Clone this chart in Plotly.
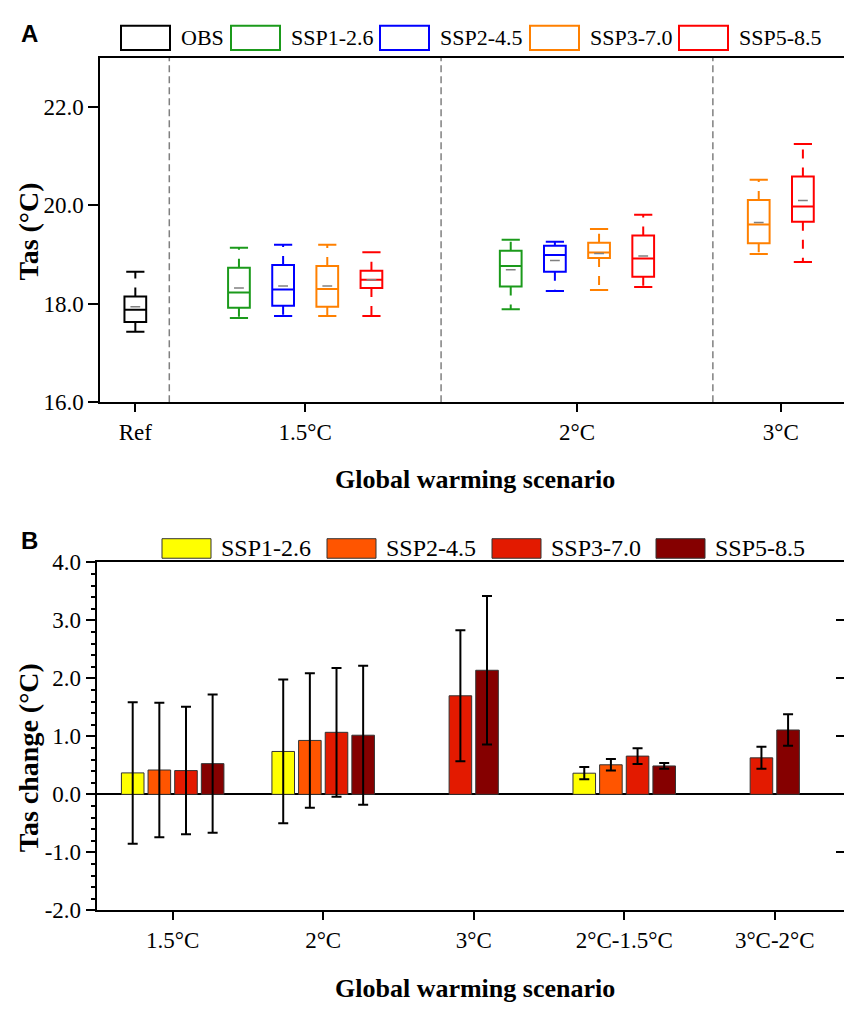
import plotly.graph_objects as go

# ---------------- data: panel A (box statistics, °C) ----------------
warming_levels = ["Ref", "1.5°C", "2°C", "3°C"]
top_series = ["OBS", "SSP1-2.6", "SSP2-4.5", "SSP3-7.0", "SSP5-8.5"]

obs_min = [17.43, None, None, None]
obs_q1 = [17.63, None, None, None]
obs_med = [17.88, None, None, None]
obs_q3 = [18.15, None, None, None]
obs_max = [18.65, None, None, None]
obs_mean = [17.94, None, None, None]

ssp126_min = [None, 17.71, 17.89, None]
ssp126_q1 = [None, 17.92, 18.35, None]
ssp126_med = [None, 18.23, 18.77, None]
ssp126_q3 = [None, 18.73, 19.08, None]
ssp126_max = [None, 19.14, 19.30, None]
ssp126_mean = [None, 18.32, 18.69, None]

ssp245_min = [None, 17.75, 18.26, None]
ssp245_q1 = [None, 17.96, 18.65, None]
ssp245_med = [None, 18.29, 18.99, None]
ssp245_q3 = [None, 18.79, 19.18, None]
ssp245_max = [None, 19.20, 19.26, None]
ssp245_mean = [None, 18.36, 18.88, None]

ssp370_min = [None, 17.75, 18.28, 19.01]
ssp370_q1 = [None, 17.94, 18.93, 19.23]
ssp370_med = [None, 18.30, 19.04, 19.61]
ssp370_q3 = [None, 18.77, 19.24, 20.11]
ssp370_max = [None, 19.20, 19.52, 20.52]
ssp370_mean = [None, 18.36, 19.02, 19.65]

ssp585_min = [None, 17.75, 18.34, 18.85]
ssp585_q1 = [None, 18.32, 18.55, 19.67]
ssp585_med = [None, 18.49, 18.92, 19.98]
ssp585_q3 = [None, 18.67, 19.39, 20.59]
ssp585_max = [None, 19.05, 19.81, 21.25]
ssp585_mean = [None, 18.49, 18.97, 20.10]

# ---------------- data: panel B (Tas change, °C) ----------------
change_cats = ["1.5°C", "2°C", "3°C", "2°C-1.5°C", "3°C-2°C"]
bar_series = ["SSP1-2.6", "SSP2-4.5", "SSP3-7.0", "SSP5-8.5"]
chg_ssp126 = [0.37, 0.74, None, 0.365, None]
err_ssp126 = [1.22, 1.24, None, 0.105, None]
chg_ssp245 = [0.42, 0.93, None, 0.51, None]
err_ssp245 = [1.16, 1.16, None, 0.10, None]
chg_ssp370 = [0.41, 1.07, 1.70, 0.66, 0.63]
err_ssp370 = [1.10, 1.11, 1.13, 0.135, 0.19]
chg_ssp585 = [0.53, 1.02, 2.14, 0.49, 1.11]
err_ssp585 = [1.19, 1.20, 1.28, 0.05, 0.27]

top_yticks = [16, 18, 20, 22]
bot_yticks = [-2, -1, 0, 1, 2, 3, 4]

# ---------------- styles / layout constants ----------------
W, H = 844, 1016
SERIF = "Liberation Serif, Times New Roman, serif"
top_colors = ["#000000", "#1b9a1b", "#0000ff", "#ff8000", "#ff0000"]
bar_colors = ["#ffff00", "#ff5500", "#e31a00", "#850000"]
LEVEL_POS = [1, 3.5, 7.5, 10.5]
SEPARATORS = [1.5, 5.5, 9.5]
BOX_STEP, BOX_W = 0.65, 0.32
BAR_STEP, BAR_W = 0.177, 0.15


def px(x):
    return x / W


def py(y):
    return 1 - y / H


top_stats = [
    (obs_min, obs_q1, obs_med, obs_q3, obs_max, obs_mean),
    (ssp126_min, ssp126_q1, ssp126_med, ssp126_q3, ssp126_max, ssp126_mean),
    (ssp245_min, ssp245_q1, ssp245_med, ssp245_q3, ssp245_max, ssp245_mean),
    (ssp370_min, ssp370_q1, ssp370_med, ssp370_q3, ssp370_max, ssp370_mean),
    (ssp585_min, ssp585_q1, ssp585_med, ssp585_q3, ssp585_max, ssp585_mean),
]
bar_vals = [chg_ssp126, chg_ssp245, chg_ssp370, chg_ssp585]
bar_errs = [err_ssp126, err_ssp245, err_ssp370, err_ssp585]

fig = go.Figure()

# ---- Panel A: box plots ----
pos_of = {}
for g in range(len(warming_levels)):
    present = [s for s in range(len(top_series)) if top_stats[s][2][g] is not None]
    n = len(present)
    for k, s in enumerate(present):
        pos_of[(s, g)] = LEVEL_POS[g] + (k - (n - 1) / 2) * BOX_STEP

for s, name in enumerate(top_series):
    mn, q1, md, q3, mx, me = top_stats[s]
    idx = [g for g in range(len(warming_levels)) if md[g] is not None]
    xs = [pos_of[(s, g)] for g in idx]
    col = top_colors[s]
    fig.add_trace(go.Box(
        x=xs, q1=[q1[g] for g in idx], median=[md[g] for g in idx], q3=[q3[g] for g in idx],
        lowerfence=[q1[g] for g in idx], upperfence=[q3[g] for g in idx],
        width=BOX_W, whiskerwidth=0, boxpoints=False,
        line=dict(color=col, width=2), fillcolor="rgba(255,255,255,0)",
        name=name, showlegend=False, xaxis="x", yaxis="y", hoverinfo="skip"))
    wx, wy = [], []
    for g, x in zip(idx, xs):
        wx += [x, x, None, x, x, None]
        wy += [q3[g], mx[g], None, q1[g], mn[g], None]
    fig.add_trace(go.Scatter(
        x=wx, y=wy, mode="lines", line=dict(color=col, width=2, dash="9px,9px"),
        showlegend=False, xaxis="x", yaxis="y", hoverinfo="skip", connectgaps=False))
    fig.add_trace(go.Scatter(
        x=xs + xs, y=[mx[g] for g in idx] + [mn[g] for g in idx], mode="markers",
        marker=dict(symbol="line-ew", size=13, line=dict(color=col, width=2)),
        showlegend=False, xaxis="x", yaxis="y", hoverinfo="skip"))
    fig.add_trace(go.Scatter(
        x=xs, y=[me[g] for g in idx], mode="markers",
        marker=dict(symbol="line-ew", size=7, line=dict(color="#808080", width=1.5)),
        showlegend=False, xaxis="x", yaxis="y", hoverinfo="skip"))

# ---- Panel B: bars with error bars ----
present_b = {c: [j for j in range(len(bar_series)) if bar_vals[j][c] is not None]
             for c in range(len(change_cats))}
for j, name in enumerate(bar_series):
    idx = [c for c in range(len(change_cats)) if bar_vals[j][c] is not None]
    offs = []
    for c in idx:
        n = len(present_b[c])
        k = present_b[c].index(j)
        offs.append((k - (n - 1) / 2) * BAR_STEP - BAR_W / 2)
    fig.add_trace(go.Bar(
        x=[change_cats[c] for c in idx], y=[bar_vals[j][c] for c in idx],
        offset=offs, width=BAR_W,
        marker=dict(color=bar_colors[j], line=dict(color="#333333", width=1)),
        error_y=dict(type="data", array=[bar_errs[j][c] for c in idx],
                     color="black", thickness=2, width=5),
        name=name, showlegend=False, xaxis="x2", yaxis="y2", hoverinfo="skip"))

# helper (empty) trace so the right-hand inner tick axis is drawn
fig.add_trace(go.Scatter(x=[], y=[], xaxis="x2", yaxis="y3", showlegend=False, hoverinfo="skip"))

axis_common = dict(showline=True, linecolor="black", linewidth=1.5, showgrid=False,
                   zeroline=False, ticks="outside", tickcolor="black", tickwidth=1.5,
                   tickfont=dict(family=SERIF, size=23, color="black"))

top_dom = [py(400), py(47)]
bot_dom = [py(921), py(564.3)]

fig.update_layout(
    width=W, height=H, margin=dict(l=0, r=0, t=0, b=0),
    paper_bgcolor="white", plot_bgcolor="white", showlegend=False,
    barmode="overlay",
    xaxis=dict(axis_common, domain=[px(100), 1], range=[0.48, 11.43], anchor="y",
               tickmode="array", tickvals=LEVEL_POS, ticktext=warming_levels,
               ticklen=8, mirror=True),
    yaxis=dict(axis_common, domain=top_dom, range=[16, 23], anchor="x",
               tickmode="array", tickvals=top_yticks,
               ticktext=[f"{v:.1f}" for v in top_yticks], ticklen=10),
    xaxis2=dict(axis_common, domain=[px(97.4), 1], range=[-0.5, 4.46], anchor="y2",
                type="category", categoryorder="array", categoryarray=change_cats,
                ticklen=8, mirror=True),
    yaxis2=dict(axis_common, domain=bot_dom, range=[-2, 4], anchor="x2",
                tickmode="array", tickvals=bot_yticks,
                ticktext=[f"{v:.1f}" for v in bot_yticks], ticklen=10,
                zeroline=True, zerolinecolor="black", zerolinewidth=1.5,
                minor=dict(dtick=0.2, ticks="outside", ticklen=5, tickwidth=1.5,
                           tickcolor="black", showgrid=False)),
    yaxis3=dict(overlaying="y2", anchor="x2", side="right", range=[-2, 4],
                tickmode="array", tickvals=bot_yticks, ticks="inside", ticklen=8,
                tickwidth=1.5, tickcolor="black", showticklabels=False,
                showline=False, showgrid=False, zeroline=False),
)

# separators in panel A
for xs in SEPARATORS:
    fig.add_shape(type="line", xref="x", yref="y domain", x0=xs, x1=xs, y0=0, y1=1,
                  line=dict(color="#808080", width=1.5, dash="7px,4px"), layer="below")

annots = []
# axis titles
annots.append(dict(text="<b>Global warming scenario</b>", x=px(475), y=py(479),
                   xref="paper", yref="paper", showarrow=False, xanchor="center", yanchor="middle",
                   font=dict(family=SERIF, size=26, color="black")))
annots.append(dict(text="<b>Global warming scenario</b>", x=px(475), y=py(1001),
                   xref="paper", yref="paper", showarrow=False, xanchor="center", yanchor="middle",
                   font=dict(family=SERIF, size=26, color="black")))
annots.append(dict(text="<b>Tas (°C)</b>", x=px(28), y=py(225), textangle=-90,
                   xref="paper", yref="paper", showarrow=False, xanchor="center", yanchor="middle",
                   font=dict(family=SERIF, size=28, color="black")))
annots.append(dict(text="<b>Tas change (°C)</b>", x=px(28), y=py(765), textangle=-90,
                   xref="paper", yref="paper", showarrow=False, xanchor="center", yanchor="middle",
                   font=dict(family=SERIF, size=28, color="black")))
# panel letters
annots.append(dict(text="<b>A</b>", x=px(29), y=py(22), xref="paper", yref="paper",
                   showarrow=False, xanchor="center", yanchor="middle",
                   font=dict(family="Liberation Sans, Arial, sans-serif", size=24, color="black")))
annots.append(dict(text="<b>B</b>", x=px(29), y=py(542), xref="paper", yref="paper",
                   showarrow=False, xanchor="center", yanchor="middle",
                   font=dict(family="Liberation Sans, Arial, sans-serif", size=24, color="black")))

# legend A (open boxes)
legA_x = [121, 231, 380, 530, 679]
for s, name in enumerate(top_series):
    x0 = legA_x[s]
    fig.add_shape(type="rect", xref="paper", yref="paper", x0=px(x0), x1=px(x0 + 49),
                  y0=py(39), y1=py(14), line=dict(color=top_colors[s], width=2),
                  fillcolor="rgba(255,255,255,0)")
    annots.append(dict(text=name, x=px(x0 + 58), y=py(26.5), xref="paper", yref="paper",
                       showarrow=False, xanchor="left", yanchor="middle",
                       font=dict(family=SERIF, size=22, color="black")))

# legend B (filled boxes)
legB_x = [162, 327, 492, 656]
for j, name in enumerate(bar_series):
    x0 = legB_x[j]
    fig.add_shape(type="rect", xref="paper", yref="paper", x0=px(x0), x1=px(x0 + 49),
                  y0=py(560), y1=py(540), line=dict(color="#333333", width=1),
                  fillcolor=bar_colors[j])
    annots.append(dict(text=name, x=px(x0 + 57), y=py(550), xref="paper", yref="paper",
                       showarrow=False, xanchor="left", yanchor="middle",
                       font=dict(family=SERIF, size=24, color="black")))

fig.update_layout(annotations=annots)
fig.write_html("out.html")
